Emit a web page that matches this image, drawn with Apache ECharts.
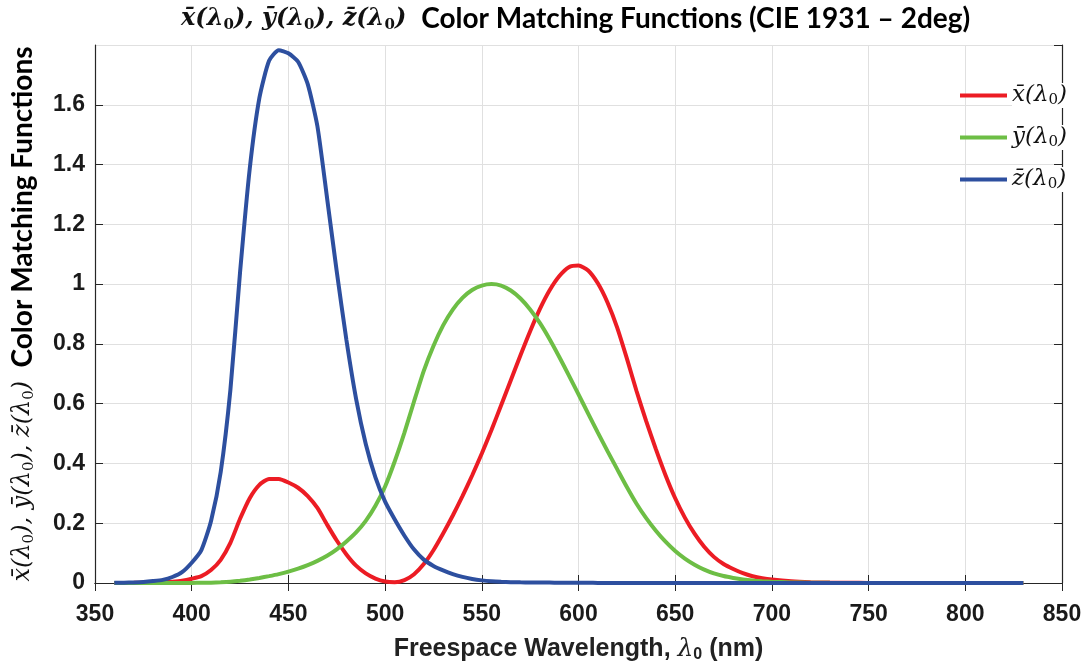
<!DOCTYPE html>
<html>
<head>
<meta charset="utf-8">
<script src="https://cdn.jsdelivr.net/npm/echarts@6/dist/echarts.min.js"></script>
<style type="text/css">
    html, body{ margin:0; padding:0; background:#fff; }
    div.mychart{ width:1088px; height:670px; }
</style>
</head>
<body>
<div id="main" class="mychart"></div>
<script>
// CIE 1931 2deg colour matching functions
var wavelength = [360,365,370,375,380,385,390,395,400,405,410,415,420,425,430,435,440,445,450,455,
    460,465,470,475,480,485,490,495,500,505,510,515,520,525,530,535,540,545,550,555,
    560,565,570,575,580,585,590,595,600,605,610,615,620,625,630,635,640,645,650,655,
    660,665,670,675,680,685,690,695,700,710,720,730,740,750,760,770,780,790,800,810,820,830];
var xBar = [0.00013,0.00023,0.00042,0.00074,0.00137,0.00224,0.00424,0.00765,0.01431,0.02319,
    0.04351,0.07763,0.13438,0.21477,0.2839,0.3285,0.34828,0.34806,0.3362,0.3187,
    0.2908,0.2511,0.19536,0.1421,0.09564,0.05795,0.03201,0.0147,0.0049,0.0024,
    0.0093,0.0291,0.06327,0.1096,0.1655,0.22575,0.2904,0.3597,0.43345,0.51205,
    0.5945,0.6784,0.7621,0.8425,0.9163,0.9786,1.0263,1.0567,1.0622,1.0456,
    1.0026,0.9384,0.85445,0.7514,0.6424,0.5419,0.4479,0.3608,0.2835,0.2187,
    0.1649,0.1212,0.0874,0.0636,0.04677,0.0329,0.0227,0.01584,0.01136,0.00579,
    0.0029,0.00144,0.00069,0.00033,0.00017,0.00008,0.00004,0.00002,0.00001,0.00001,0,0];
var yBar = [0.000004,0.000007,0.000012,0.000022,0.000039,0.000064,0.00012,0.000217,0.000396,0.00064,
    0.00121,0.00218,0.004,0.0073,0.0116,0.01684,0.023,0.0298,0.038,0.048,
    0.06,0.0739,0.09098,0.1126,0.13902,0.1693,0.20802,0.2586,0.323,0.4073,
    0.503,0.6082,0.71,0.7932,0.862,0.91485,0.954,0.9803,0.99495,1.0,
    0.995,0.9786,0.952,0.9154,0.87,0.8163,0.757,0.6949,0.631,0.5668,
    0.503,0.4412,0.381,0.321,0.265,0.217,0.175,0.1382,0.107,0.0816,
    0.061,0.04458,0.032,0.0232,0.017,0.01192,0.00821,0.00572,0.0041,0.00209,
    0.00105,0.00052,0.00025,0.00012,0.00006,0.00003,0.000015,0.00001,0,0,0,0];
var zBar = [0.00061,0.00109,0.00195,0.00349,0.00645,0.01055,0.02005,0.03621,0.06785,0.1102,
    0.2074,0.3713,0.6456,1.03905,1.3856,1.62296,1.74706,1.7826,1.77211,1.7441,
    1.6692,1.5281,1.28764,1.0419,0.81295,0.6162,0.46518,0.3533,0.272,0.2123,
    0.1582,0.1117,0.07825,0.05725,0.04216,0.02984,0.0203,0.0134,0.00875,0.00575,
    0.0039,0.00275,0.0021,0.0018,0.00165,0.0014,0.0011,0.001,0.0008,0.0006,
    0.00034,0.00024,0.00019,0.0001,0.00005,0.00003,0.00002,0.00001,0,0,
    0,0,0,0,0,0,0,0,0,0,0,0,0,0,0,0,0,0,0,0,0,0];
var seriesNames = ['x̄(λ0)', 'ȳ(λ0)', 'z̄(λ0)'];
var seriesSymbols = ['x̄', 'ȳ', 'z̄'];
var seriesColors = ['#ec1c24', '#6dbe45', '#2d4f9f'];
var seriesValues = [xBar, yBar, zBar];

var xTicks = [350, 400, 450, 500, 550, 600, 650, 700, 750, 800, 850];
var yTicks = [0, 0.2, 0.4, 0.6, 0.8, 1, 1.2, 1.4, 1.6];

function pairs(vals){
    var out = [];
    for(var i = 0; i < wavelength.length; i++){
        out.push([wavelength[i], vals[i]]);
    }
    return out;
}

var mathFont = "'DejaVu Serif', 'Liberation Serif', serif";
var boldFont = "Lato, 'Open Sans', sans-serif";
var axisFont = "'Liberation Sans', Arial, sans-serif";

var series = [];
for(var k = 0; k < 3; k++){
    series.push({
        name: seriesNames[k],
        type: 'line',
        data: pairs(seriesValues[k]),
        showSymbol: false,
        smooth: 0.2,
        lineStyle: { width: 4, color: seriesColors[k] },
        itemStyle: { color: seriesColors[k] },
        z: 3 + k
    });
}

var axisLine = { show: true, lineStyle: { color: '#262626', width: 1.2 } };
var splitLine = { show: true, lineStyle: { color: '#e0e0e0', width: 1 } };
var tick = { show: true, inside: true, length: 8, lineStyle: { color: '#262626' } };

var myChart = echarts.init(document.getElementById('main'));
var option = {
    backgroundColor: '#fff',
    animation: false,
    title: {
        text: '{m|x̄(λ}{s|0}{m|), ȳ(λ}{s|0}{m|), z̄(λ}{s|0}{m|)}   {t|Color Matching Functions (CIE 1931 – 2deg)}',
        left: 176,
        top: 0,
        textStyle: {
            rich: {
                m: { fontFamily: mathFont, fontStyle: 'italic', fontWeight: 'bold', fontSize: 24, color: '#111' },
                s: { fontFamily: mathFont, fontWeight: 'bold', fontSize: 15, color: '#111', verticalAlign: 'bottom', padding: [10, 0, 0, 0] },
                t: { fontFamily: boldFont, fontWeight: 'bold', fontSize: 28, color: '#000' }
            }
        }
    },
    legend: {
        orient: 'vertical',
        left: 955,
        top: 78,
        itemWidth: 47,
        itemHeight: 4,
        itemGap: 17,
        icon: 'rect',
        data: seriesNames,
        formatter: function(name){
            var i = seriesNames.indexOf(name);
            return '{v|' + seriesSymbols[i] + '(λ}{s|0}{v|)}';
        },
        textStyle: {
            backgroundColor: '#fff',
            rich: {
                v: { fontFamily: mathFont, fontStyle: 'italic', fontSize: 23, color: '#111' },
                s: { fontFamily: mathFont, fontSize: 15, color: '#111', verticalAlign: 'bottom', padding: [10, 0, 0, 0] }
            }
        }
    },
    grid: { left: 95, right: 26, top: 45, bottom: 87 },
    xAxis: [{
        type: 'value',
        min: 350, max: 850, interval: 50,
        name: '{b|Freespace Wavelength, }{l|λ}{s|0}{b| (nm)}',
        nameLocation: 'middle',
        nameGap: 52,
        nameTextStyle: {
            rich: {
                b: { fontFamily: axisFont, fontWeight: 'bold', fontSize: 25, color: '#222' },
                l: { fontFamily: mathFont, fontStyle: 'italic', fontSize: 25, color: '#222' },
                s: { fontFamily: axisFont, fontWeight: 'bold', fontSize: 16, color: '#222', verticalAlign: 'bottom', padding: [12, 0, 0, 0] }
            }
        },
        axisLine: axisLine,
        axisTick: tick,
        axisLabel: { margin: 20, fontFamily: axisFont, fontWeight: 'bold', fontSize: 23, color: '#1a1a1a' },
        splitLine: splitLine
    }, {
        type: 'value',
        position: 'top',
        min: 350, max: 850, interval: 50,
        axisLine: axisLine,
        axisTick: tick,
        axisLabel: { show: false },
        splitLine: { show: false }
    }],
    yAxis: [{
        type: 'value',
        min: 0, max: 1.8, interval: 0.2,
        name: '{m|x̄(λ}{s|0}{m|), ȳ(λ}{s|0}{m|), z̄(λ}{s|0}{m|)}    {t|Color Matching Functions}',
        nameLocation: 'middle',
        nameRotate: 90,
        nameGap: 58,
        nameTextStyle: {
            rich: {
                m: { fontFamily: mathFont, fontStyle: 'italic', fontSize: 24, color: '#111' },
                s: { fontFamily: mathFont, fontSize: 15, color: '#111', verticalAlign: 'bottom', padding: [10, 0, 0, 0] },
                t: { fontFamily: boldFont, fontWeight: 'bold', fontSize: 28, color: '#000' }
            }
        },
        axisLine: axisLine,
        axisTick: tick,
        axisLabel: {
            margin: 10, fontFamily: axisFont, fontWeight: 'bold', fontSize: 23, color: '#1a1a1a',
            showMaxLabel: false
        },
        splitLine: splitLine
    }, {
        type: 'value',
        position: 'right',
        min: 0, max: 1.8, interval: 0.2,
        axisLine: axisLine,
        axisTick: tick,
        axisLabel: { show: false },
        splitLine: { show: false }
    }],
    series: series
};
myChart.setOption(option);
</script>
</body>
</html>
